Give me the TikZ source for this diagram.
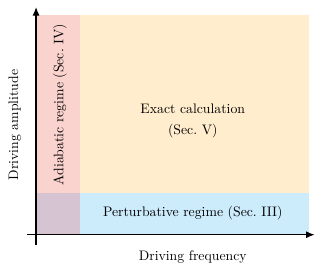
\documentclass[tikz,border=0pt]{standalone}
\usetikzlibrary{arrows.meta}
\definecolor{adiabred}{HTML}{FAD3CF}
\definecolor{exactorange}{HTML}{FFEDCD}
\definecolor{pertblue}{HTML}{CCEBFB}
\definecolor{overlapmix}{HTML}{D6C4D2}
\begin{document}
\begin{tikzpicture}[
  regime/.style={inner sep=0pt, outer sep=0pt},
  axis/.style={-{Latex[length=2.2mm,width=1.8mm]}, thick},
  lbl/.style={font=\normalsize, inner sep=1pt}]
\useasboundingbox (-0.92,-0.82) rectangle (7.17,5.99);
% regions
\fill[exactorange] (0.03,0) rectangle (6.97,5.61);
\fill[adiabred] (0.03,0) rectangle (1.12,5.61);
\fill[pertblue] (1.12,0) rectangle (6.97,1.07);
\fill[overlapmix] (0.03,0) rectangle (1.12,1.07);
% axes
\coordinate (xs) at (-0.23,0);
\coordinate (xe) at (7.11,0);
\coordinate (ys) at (0,-0.26);
\coordinate (ye) at (0,5.81);
\draw[axis] (xs) -- (xe);
\draw[axis] (ys) -- (ye);
% labels
\node[lbl] (freq) at (4.0,-0.56) {Driving frequency};
\node[lbl, rotate=90] (amp) at (-0.54,2.8) {Driving amplitude};
\node[lbl] (exact) at (4.0,3.21) {Exact calculation};
\node[lbl] (exactsec) at (4.0,2.65) {(Sec.~V)};
\node[lbl] (pert) at (4.0,0.54) {Perturbative regime (Sec.~III)};
\node[lbl, rotate=90] (adiab) at (0.61,3.32) {Adiabatic regime (Sec.~IV)};
\end{tikzpicture}
\end{document}
